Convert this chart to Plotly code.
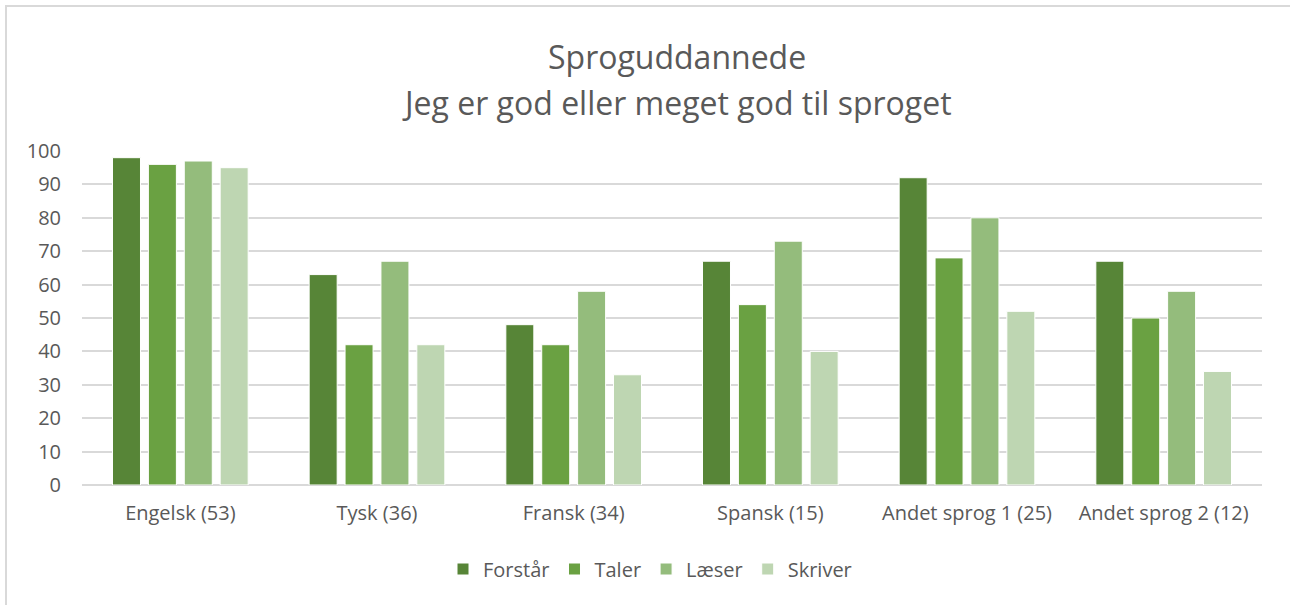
import plotly.graph_objects as go

categories = ["Engelsk (53)", "Tysk (36)", "Fransk (34)", "Spansk (15)", "Andet sprog 1 (25)", "Andet sprog 2 (12)"]
forstaar = [98, 63, 48, 67, 92, 67]
taler = [96, 42, 42, 54, 68, 50]
laeser = [97, 67, 58, 73, 80, 58]
skriver = [95, 42, 33, 40, 52, 34]
series_names = ["Forstår", "Taler", "Læser", "Skriver"]
colors = ["#578537", "#6AA142", "#94BC7C", "#BED6B2"]
title_lines = ["Sproguddannede", "Jeg er god eller meget god til sproget"]

FONT = "Open Sans"
fig = go.Figure()
for name, vals, col in zip(series_names, [forstaar, taler, laeser, skriver], colors):
    fig.add_trace(go.Bar(x=categories, y=vals, name=name,
                         marker=dict(color=col, line=dict(color="white", width=1))))

W, H = 1290, 605
L, R, T, B = 82, 28, 151, 120
pw, ph = W - L - R, H - T - B

def px(x):
    return (x - L) / pw

def py(y):
    return (H - B - y) / ph

fig.update_layout(
    width=W, height=H,
    margin=dict(l=L, r=R, t=T, b=B),
    paper_bgcolor="white", plot_bgcolor="white",
    barmode="group", bargap=0.27, bargroupgap=0.22,
    font=dict(family=FONT, color="#595959", size=18),
    showlegend=True,
    legend=dict(orientation="h", x=px(650), xanchor="center", y=py(569), yanchor="middle",
                font=dict(size=20, color="#595959"), itemwidth=30, traceorder="normal"),
    xaxis=dict(showgrid=False, showline=False, ticks="", ticklabelstandoff=14,
               tickfont=dict(size=20, color="#595959")),
    yaxis=dict(range=[0, 100], dtick=10, showgrid=True, gridcolor="#D9D9D9", gridwidth=1.5,
               zeroline=True, zerolinecolor="#D9D9D9", zerolinewidth=1.5,
               tickfont=dict(size=20, color="#595959"), ticklabelstandoff=20, showline=False),
)
fig.add_annotation(text=title_lines[0], x=px(677), y=py(57), xref="paper", yref="paper",
                   showarrow=False, font=dict(size=32, color="#595959", family=FONT), yanchor="middle")
fig.add_annotation(text=title_lines[1], x=px(677), y=py(102), xref="paper", yref="paper",
                   showarrow=False, font=dict(size=32, color="#595959", family=FONT), yanchor="middle")
fig.add_shape(type="rect", xref="paper", yref="paper", x0=px(6), x1=px(1300), y0=py(620), y1=py(6),
              line=dict(color="#D9D9D9", width=2), layer="below")
fig.write_html("out.html", config={"displayModeBar": False},
               post_script="document.body.style.margin='0px';document.body.style.overflow='hidden';")
